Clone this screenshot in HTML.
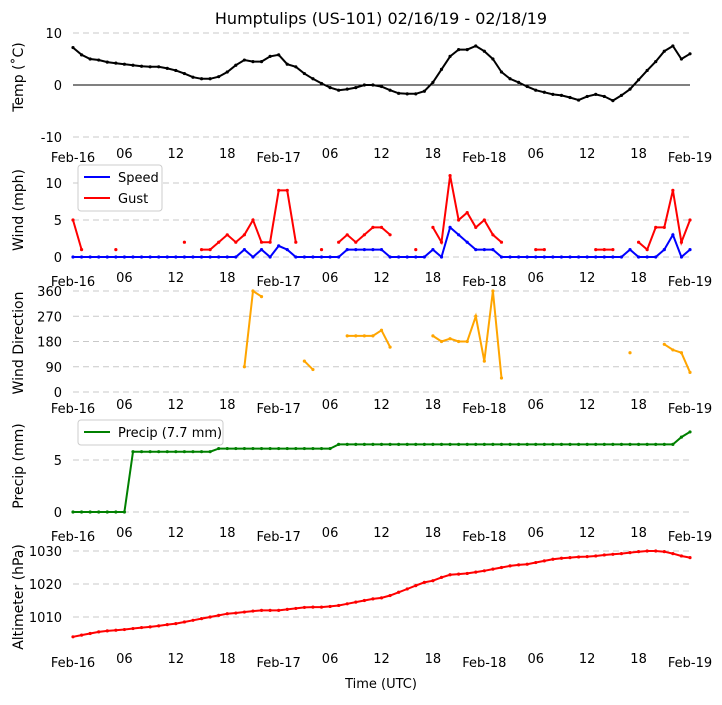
<!DOCTYPE html>
<html><head><meta charset="utf-8"><style>
body{margin:0;background:#fff;font-family:"Liberation Sans","DejaVu Sans",sans-serif}
svg text{font-family:"DejaVu Sans","Liberation Sans",sans-serif}
</style></head><body>
<svg id="c" width="722" height="700" xmlns="http://www.w3.org/2000/svg">
<text x="381" y="24" text-anchor="middle" font-size="16">Humptulips (US-101) 02/16/19 - 02/18/19</text>
<text x="381" y="688" text-anchor="middle" font-size="13">Time (UTC)</text>
</svg>
<script>
const xTickLabels=["Feb-16","06","12","18","Feb-17","06","12","18","Feb-18","06","12","18","Feb-19"];
const temp=[7.2,5.8,5,4.8,4.4,4.2,4,3.8,3.6,3.5,3.5,3.2,2.8,2.2,1.5,1.2,1.2,1.6,2.5,3.8,4.8,4.5,4.5,5.5,5.8,4,3.5,2.2,1.2,0.3,-0.5,-1,-0.8,-0.5,0,0,-0.3,-1,-1.6,-1.7,-1.7,-1.2,0.5,3,5.5,6.8,6.8,7.5,6.5,5,2.5,1.2,0.5,-0.3,-1,-1.4,-1.8,-2,-2.4,-2.9,-2.2,-1.8,-2.2,-3,-2,-0.8,1,2.8,4.5,6.5,7.5,5,6];
const speed=[0,0,0,0,0,0,0,0,0,0,0,0,0,0,0,0,0,0,0,0,1,0,1,0,1.5,1,0,0,0,0,0,0,1,1,1,1,1,0,0,0,0,0,1,0,4,3,2,1,1,1,0,0,0,0,0,0,0,0,0,0,0,0,0,0,0,1,0,0,0,1,3,0,1];
const gust=[5,1,null,null,null,1,null,null,null,null,null,null,null,2,null,1,1,2,3,2,3,5,2,2,9,9,2,null,null,1,null,2,3,2,3,4,4,3,null,null,1,null,4,2,11,5,6,4,5,3,2,null,null,null,1,1,null,null,null,null,null,1,1,1,null,null,2,1,4,4,9,2,5];
const dir=[null,null,null,null,null,null,null,null,null,null,null,null,null,null,null,null,null,null,null,null,90,360,340,null,null,null,null,110,80,null,null,null,200,200,200,200,220,160,null,null,null,null,200,180,190,180,180,270,110,360,50,null,null,null,null,null,null,null,null,null,null,null,null,null,null,140,null,null,null,170,150,140,70];
const precip=[0,0,0,0,0,0,0,5.8,5.8,5.8,5.8,5.8,5.8,5.8,5.8,5.8,5.8,6.1,6.1,6.1,6.1,6.1,6.1,6.1,6.1,6.1,6.1,6.1,6.1,6.1,6.1,6.5,6.5,6.5,6.5,6.5,6.5,6.5,6.5,6.5,6.5,6.5,6.5,6.5,6.5,6.5,6.5,6.5,6.5,6.5,6.5,6.5,6.5,6.5,6.5,6.5,6.5,6.5,6.5,6.5,6.5,6.5,6.5,6.5,6.5,6.5,6.5,6.5,6.5,6.5,6.5,7.2,7.7];
const alt=[1004,1004.5,1005,1005.5,1005.8,1006,1006.2,1006.5,1006.8,1007,1007.3,1007.7,1008,1008.5,1009,1009.5,1010,1010.5,1011,1011.2,1011.5,1011.8,1012,1012,1012,1012.3,1012.6,1012.9,1013,1013,1013.2,1013.5,1014,1014.5,1015,1015.5,1015.8,1016.5,1017.5,1018.5,1019.5,1020.5,1021,1022,1022.8,1023,1023.2,1023.6,1024,1024.5,1025,1025.5,1025.8,1026,1026.5,1027,1027.5,1027.8,1028,1028.2,1028.3,1028.5,1028.8,1029,1029.2,1029.5,1029.8,1030,1030,1029.8,1029.2,1028.5,1028];
const NS="http://www.w3.org/2000/svg",svg=document.getElementById('c');
const x=h=>73+h*(617/72);
function el(t,a){const e=document.createElementNS(NS,t);for(const k in a)e.setAttribute(k,a[k]);svg.appendChild(e);return e;}
function panel(name,title,ticks,y,labY,ty){
 ticks.forEach(v=>{const l=el('line',{x1:73,x2:690,y1:y(v),y2:y(v),stroke:'#c8c8c8','stroke-dasharray':'6,4'});
 
 
 const t=el('text',{x:62,y:y(v)+5,'text-anchor':'end','font-size':13});t.textContent=v;
 
 });
 xTickLabels.forEach((s,i)=>{const t=el('text',{x:x(i*6),y:labY+(i%4==0?4:0),'text-anchor':'middle','font-size':13});t.textContent=s;
 
 });
 const t=el('text',{transform:`translate(23,${ty}) rotate(-90)`,'text-anchor':'middle','font-size':14});t.textContent=title;
 
 
}
function series(name,arr,y,color){
 let d='';let pen=false;
 arr.forEach((v,i)=>{if(v===null){pen=false;return;}d+=(pen?'L':'M')+x(i).toFixed(1)+' '+y(v).toFixed(1)+' ';pen=true;
  const c=el('circle',{cx:x(i),cy:y(v),r:1.6,fill:color});
  
  });
 const p=el('path',{d:d,fill:'none',stroke:color,'stroke-width':2});
 
 
}
function legend(name,x0,y0,w,items){
 const r=el('rect',{x:x0,y:y0,width:w,height:items.length*21+4,fill:'#fff',stroke:'#ccc',rx:3});
 
 
 items.forEach((it,i)=>{const yy=y0+12+i*21;
  const l=el('line',{x1:x0+6,x2:x0+32,y1:yy,y2:yy,stroke:it[1],'stroke-width':2});
  
  
  const t=el('text',{x:x0+40,y:yy+5,'font-size':13});t.textContent=it[0];
  
  });
}
// temp
const yT=v=>85-v*5.2;
panel('temp','Temp (˚C)',[10,0,-10],yT,158,77);
const z=el('line',{x1:73,x2:690,y1:85,y2:85,stroke:'#000','stroke-width':1});


series('temp',temp,yT,'#000');
// wind
const yW=v=>257-v*7.4;
panel('wind','Wind (mph)',[0,5,10],yW,282,210);
series('gust',gust,yW,'red');
series('speed',speed,yW,'blue');
legend('wind-legend',78,165,84,[['Speed','blue'],['Gust','red']]);
// direction
const yD=v=>392-v*(101/360);
panel('dir','Wind Direction',[0,90,180,270,360],yD,409,343);
series('direction',dir,yD,'orange');
// precip
const yP=v=>512-v*10.4;
panel('precip','Precip (mm)',[0,5],yP,537,466);
series('precip',precip,yP,'green');
legend('precip-legend',78,420,145,[['Precip (7.7 mm)','green']]);
// altimeter
const yA=v=>584-(v-1020)*3.3;
panel('alt','Altimeter (hPa)',[1010,1020,1030],yA,663,597);
series('altimeter',alt,yA,'red');
</script>
</body></html>
